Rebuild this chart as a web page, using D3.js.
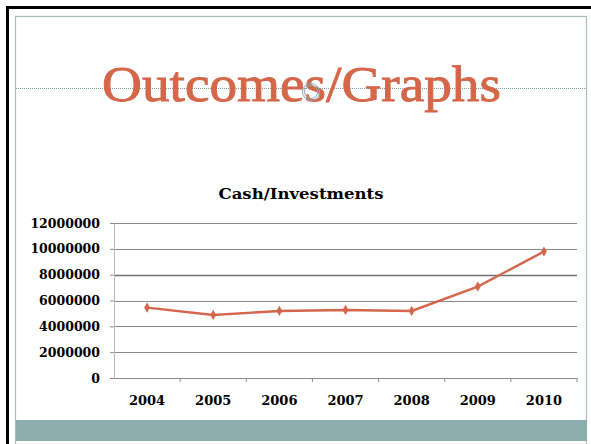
<!DOCTYPE html>
<html>
<head>
<meta charset="utf-8">
<script src="https://cdn.jsdelivr.net/npm/d3@7"></script>
<style>
  body { margin: 0; background: #fff; }
  svg { display: block; }
</style>
</head>
<body>
<div id="chart"></div>
<script>
var years = ["2004", "2005", "2006", "2007", "2008", "2009", "2010"];
var cash = [5450000, 4880000, 5190000, 5270000, 5190000, 7080000, 9790000];
var yTicks = [0, 2000000, 4000000, 6000000, 8000000, 10000000, 12000000];

var W = 591, H = 444;
var svg = d3.select("#chart").append("svg")
    .attr("width", W)
    .attr("height", H);

// slide frame
svg.append("rect").attr("x", 0).attr("y", 0).attr("width", W).attr("height", H).attr("fill", "#fff");
svg.append("line").attr("x1", 7.5).attr("x2", 7.5).attr("y1", 6).attr("y2", H)
    .attr("stroke", "#000").attr("stroke-width", 3);
svg.append("line").attr("x1", 6).attr("x2", W).attr("y1", 7.5).attr("y2", 7.5)
    .attr("stroke", "#000").attr("stroke-width", 3);
svg.append("rect").attr("x", 15.5).attr("y", 16.5).attr("width", 571).attr("height", 440)
    .attr("fill", "none").attr("stroke", "#a9bfbf").attr("stroke-width", 1.2);
svg.append("rect").attr("x", 16).attr("y", 420).attr("width", 571).attr("height", 21)
    .attr("fill", "#8badad");

// dotted guide line and placeholder ring
svg.append("line").attr("x1", 16).attr("x2", 587).attr("y1", 88.5).attr("y2", 88.5)
    .attr("stroke", "#7f9c9e").attr("stroke-width", 1).attr("stroke-dasharray", "1,1");

svg.append("text")
    .attr("x", 102).attr("y", 101)
    .attr("textLength", 399).attr("lengthAdjust", "spacingAndGlyphs")
    .style("font-family", "'Liberation Serif', serif")
    .style("font-size", "50px")
    .style("fill", "#d4674a")
    .style("stroke", "#d4674a")
    .style("stroke-width", "0.9px")
    .text("Outcomes/Graphs");

svg.append("circle").attr("cx", 311).attr("cy", 92).attr("r", 8.5)
    .attr("fill", "none").attr("stroke", "#8faab0").attr("stroke-width", 1);
svg.append("circle").attr("cx", 311).attr("cy", 92).attr("r", 6.5)
    .attr("fill", "none").attr("stroke", "#8faab0").attr("stroke-width", 1);

// chart area
var pLeft = 114, pRight = 577, pTop = 223, pBottom = 378;

var x = d3.scaleBand().domain(years).range([pLeft, pRight]);
var y = d3.scaleLinear().domain([0, 12000000]).range([pBottom, pTop]);

svg.append("text")
    .attr("x", 301).attr("y", 199)
    .attr("text-anchor", "middle")
    .attr("textLength", 165).attr("lengthAdjust", "spacingAndGlyphs")
    .style("font-family", "'DejaVu Serif', serif")
    .style("font-weight", "bold")
    .style("font-size", "14px")
    .text("Cash/Investments");

svg.selectAll(".grid")
    .data(yTicks.slice(1))
    .enter().append("line")
    .attr("x1", pLeft).attr("x2", pRight)
    .attr("y1", function(d) { return Math.round(y(d)) + 0.5; })
    .attr("y2", function(d) { return Math.round(y(d)) + 0.5; })
    .attr("stroke", function(d) { return d == 8000000 ? "#6f6f6f" : "#8a8a8a"; })
    .attr("stroke-width", function(d) { return d == 8000000 ? 1.6 : 1; });

var yAxis = svg.append("g")
    .attr("transform", "translate(" + pLeft + ",0)")
    .call(d3.axisLeft(y).tickValues(yTicks).tickSize(4).tickPadding(10).tickFormat(d3.format("d")));
yAxis.select(".domain").attr("stroke", "#b8b8b8");
yAxis.selectAll(".tick line").attr("stroke", "#8a8a8a");
yAxis.selectAll("text")
    .style("font-family", "'DejaVu Serif', serif")
    .style("font-weight", "bold")
    .style("font-size", "12.5px")
    .attr("fill", "#000");

var xAxis = svg.append("g")
    .attr("transform", "translate(0," + pBottom + ")")
    .call(d3.axisBottom(x).tickSize(0).tickPadding(0));
xAxis.select(".domain").attr("stroke", "#8a8a8a");
xAxis.selectAll("text")
    .attr("y", 18)
    .style("font-family", "'DejaVu Serif', serif")
    .style("font-weight", "bold")
    .style("font-size", "13px")
    .attr("fill", "#000");

// category boundary ticks
svg.selectAll(".xtick")
    .data(years)
    .enter().append("line")
    .attr("x1", function(d) { return x(d) + x.bandwidth(); })
    .attr("x2", function(d) { return x(d) + x.bandwidth(); })
    .attr("y1", pBottom).attr("y2", pBottom + 4)
    .attr("stroke", "#8a8a8a");

var line = d3.line()
    .x(function(d, i) { return x(years[i]) + x.bandwidth() / 2; })
    .y(function(d) { return y(d); });

svg.append("path")
    .datum(cash)
    .attr("d", line)
    .attr("fill", "none")
    .attr("stroke", "#d3664c")
    .attr("stroke-width", 2.4);

svg.selectAll(".pt")
    .data(cash)
    .enter().append("path")
    .attr("transform", function(d, i) { return "translate(" + (x(years[i]) + x.bandwidth() / 2) + "," + y(d) + ")"; })
    .attr("d", d3.symbol().type(d3.symbolDiamond).size(30))
    .attr("fill", "#d3664c");
</script>
</body>
</html>
